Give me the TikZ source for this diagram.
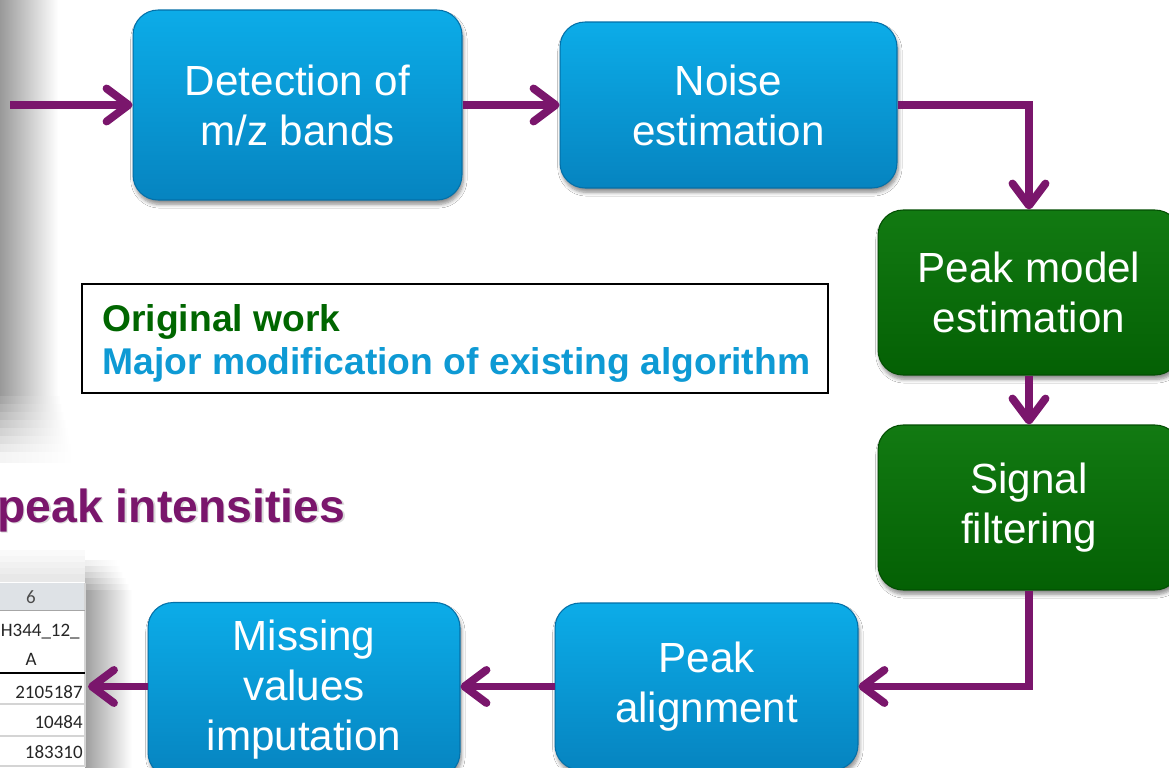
\documentclass[tikz,border=0pt]{standalone}
\usepackage{fontspec}
\setmainfont{Liberation Sans}
\newfontfamily\sheetfont{Carlito}
\usetikzlibrary{arrows.meta,shadows.blur}

\definecolor{flowpurple}{RGB}{122,22,108}
\definecolor{boxblueT}{RGB}{12,172,232}
\definecolor{boxblueB}{RGB}{6,132,192}
\definecolor{boxblueE}{RGB}{4,112,168}
\definecolor{boxgreenT}{RGB}{18,122,18}
\definecolor{boxgreenB}{RGB}{4,96,4}
\definecolor{boxgreenE}{RGB}{3,78,3}
\definecolor{origgreen}{RGB}{0,102,0}
\definecolor{modblue}{RGB}{14,154,212}
\definecolor{sheethead}{RGB}{222,226,230}
\definecolor{sheetgrid}{RGB}{212,212,212}

\tikzset{
  stage/.style={rounded corners=0.5cm, text=white, align=center, inner sep=0pt,
    font=\fontsize{24}{28.5}\selectfont, line width=0.6pt,
    blur shadow={shadow xshift=0.8pt, shadow yshift=-2.5pt, shadow blur steps=6, shadow opacity=45}},
  bluestage/.style={stage, top color=boxblueT, bottom color=boxblueB, draw=boxblueE},
  greenstage/.style={stage, top color=boxgreenT, bottom color=boxgreenB, draw=boxgreenE},
  flow/.style={draw=flowpurple, line width=4.5pt,
    -{Straight Barb[length=0.44cm, width=0.66cm, round]}},
  legendtext/.style={anchor=base west, inner sep=0pt, font=\bfseries\fontsize{21.2}{25}\selectfont},
  celltext/.style={inner sep=0pt, font=\sheetfont\fontsize{10.8}{12}\selectfont, text=black!85}
}

\begin{document}
\begin{tikzpicture}[x=0.02cm, y=-0.02cm]
  \clip (0,0) rectangle (1169,767);
  \fill[white] (0,0) rectangle (1169,767);

  % grey edge of the picture behind, on the left, fading out at its foot
  \fill[left color=black!40, right color=white] (0,0) rectangle (58,398);
  \foreach \k [evaluate=\k as \tone using 40*(1-\k/9)] in {1,...,8}
    \fill[left color=black!\tone, right color=white] (0,{388+8*\k}) rectangle ({58+2*\k},{398+8*\k});

  % spreadsheet fragment, bottom left, with its shadow
  \foreach \k [evaluate=\k as \tone using 9*\k/5] in {1,...,5}
    \fill[black!\tone] (0,{550+6*(\k-1)}) rectangle (85,{552+6*\k});
  \foreach \k [evaluate=\k as \tone using 38*\k/6] in {1,...,5}
    \fill[left color=black!\tone, right color=white] (85,{554+6*\k}) rectangle ({132-3*(6-\k)},{562+6*\k});
  \fill[left color=black!38, right color=white] (85,590) rectangle (132,767);
  \fill[white] (0,583) rectangle (85,767);
  \fill[sheethead] (0,583) rectangle (85,610);
  \draw[sheetgrid, line width=0.6pt] (0,704) -- (85,704) (0,736) -- (85,736) (0,766) -- (85,766)
    (85,583) -- (85,767);
  \draw[black!35, line width=1pt] (0,610.5) -- (85,610.5);
  \draw[black, line width=1.2pt] (0,673) -- (85,673);
  \node[celltext, text=black!70] (colnum) at (31,597) {6};
  \node[celltext, anchor=east] (colname) at (80,632) {H344\_12\_};
  \node[celltext] (colsuffix) at (31,659) {A};
  \node[celltext, anchor=east] (valA) at (83,692) {2105187};
  \node[celltext, anchor=east] (valB) at (83,722) {10484};
  \node[celltext, anchor=east] (valC) at (83,752) {183310};

  % heading
  \node[anchor=base west, inner sep=0pt, font=\bfseries\fontsize{26.4}{30}\selectfont, text=black!15]
    (headshadow) at (-1.5,523.5) {peak intensities};
  \node[anchor=base west, inner sep=0pt, font=\bfseries\fontsize{26.4}{30}\selectfont, text=flowpurple]
    (heading) at (-3,522) {peak intensities};

  % legend
  \node[draw=black, line width=0.9pt, fill=white, minimum width=14.92cm, minimum height=2.18cm, inner sep=0pt]
    (legend) at (455,338.5) {};
  \node[legendtext, text=origgreen] (orig) at (102,331) {Original work};
  \node[legendtext, text=modblue] (major) at (102,374) {Major modification of existing algorithm};

  % processing stages
  \node[bluestage, minimum width=6.58cm, minimum height=3.8cm] (detect) at (297.5,105) {Detection of\\m/z bands};
  \node[bluestage, minimum width=6.74cm, minimum height=3.32cm] (noise) at (728.5,105) {Noise\\estimation};
  \node[greenstage, minimum width=6.04cm, minimum height=3.3cm] (model) at (1029,292.5) {Peak model\\estimation};
  \node[greenstage, minimum width=6.04cm, minimum height=3.3cm] (filter) at (1029,507.5) {Signal\\filtering};
  \node[bluestage, minimum width=6.06cm, minimum height=3.34cm] (align) at (706.5,686.5) {Peak\\alignment};
  \node[bluestage, minimum width=6.24cm, minimum height=3.5cm] (impute) at (304,690) {Missing\\values\\imputation};

  % flow between stages
  \coordinate (source) at (10,105);
  \coordinate (sheet) at (88,686.5);
  \draw[flow] (source) -- (detect.west);
  \draw[flow] (detect.east) -- (noise.west);
  \draw[flow] (noise.east) -| (model.north);
  \draw[flow] (model.south) -- (filter.north);
  \draw[flow] (filter.south) |- (align.east);
  \draw[flow] (align.west) -- (align.west -| impute.east);
  \draw[flow] (align.west -| impute.west) -- (sheet);
\end{tikzpicture}
\end{document}
